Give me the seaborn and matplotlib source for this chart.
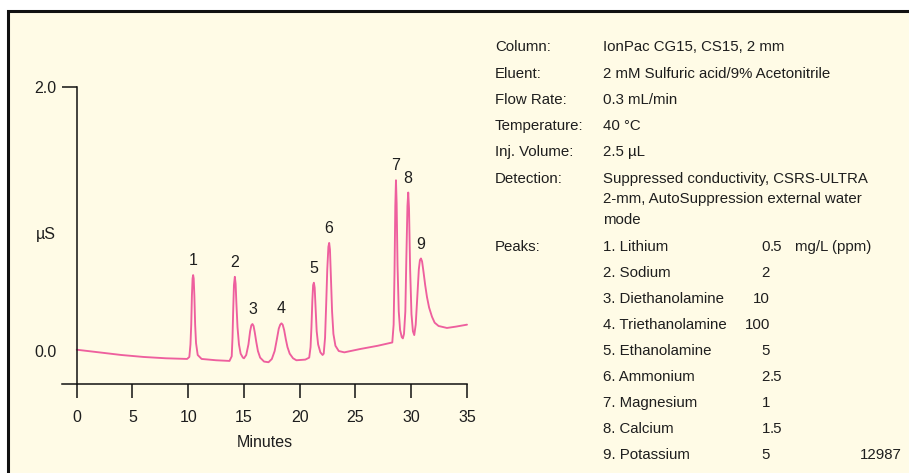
import matplotlib
matplotlib.use("Agg")
import matplotlib.pyplot as plt
import matplotlib.patches as patches
from matplotlib import font_manager
import pandas as pd
import seaborn as sns

# Chromatogram trace (minutes, µS)
time = [0.0, 2.0, 4.0, 6.0, 8.0, 9.9, 10.1,
        10.2, 10.27, 10.33, 10.39, 10.44, 10.49, 10.55, 10.62, 10.7, 10.85, 11.2,
        12.5, 13.7, 13.9, 13.97, 14.03, 14.1, 14.18, 14.25, 14.32, 14.42, 14.55, 14.7, 14.9,
        15.0, 15.2, 15.4, 15.55, 15.66, 15.76, 15.86, 15.97, 16.1, 16.25, 16.45, 16.8,
        17.2, 17.5, 17.75, 17.95, 18.12, 18.25, 18.36, 18.47, 18.6, 18.75, 18.9, 19.1, 19.4, 19.7,
        20.5, 20.85, 20.97, 21.05, 21.13, 21.2, 21.27, 21.34, 21.42, 21.52, 21.65, 21.85, 22.05,
        22.15, 22.27, 22.37, 22.47, 22.57, 22.64, 22.71, 22.8, 22.9, 23.02, 23.2, 23.5,
        24.0, 25.4, 27.0, 28.3, 28.42, 28.5, 28.57, 28.63, 28.69, 28.77, 28.88, 29.0, 29.15, 29.25,
        29.35, 29.47, 29.56, 29.66, 29.73, 29.8, 29.9, 30.02, 30.15, 30.27,
        30.4, 30.55, 30.68, 30.78, 30.87, 30.97, 31.1, 31.25, 31.41, 31.6, 31.86, 32.1, 32.45,
        33.2, 34.0, 35.0]
signal = [0.01, -0.01, -0.03, -0.045, -0.055, -0.06, -0.045,
          0.05, 0.2, 0.42, 0.55, 0.576, 0.55, 0.42, 0.2, 0.06, -0.03, -0.06,
          -0.07, -0.075, -0.04, 0.1, 0.3, 0.5, 0.563, 0.51, 0.36, 0.18, 0.05, -0.02, -0.05,
          -0.055, -0.03, 0.05, 0.15, 0.195, 0.205, 0.19, 0.14, 0.07, 0.0, -0.05, -0.08,
          -0.085, -0.06, 0.0, 0.09, 0.17, 0.2, 0.21, 0.2, 0.16, 0.09, 0.03, -0.02, -0.055, -0.07,
          -0.065, -0.05, 0.03, 0.18, 0.38, 0.5, 0.518, 0.48, 0.33, 0.15, 0.05, -0.01, -0.03,
          -0.02, 0.1, 0.35, 0.62, 0.79, 0.82, 0.77, 0.55, 0.3, 0.13, 0.04, 0.0,
          -0.01, 0.015, 0.04, 0.065, 0.2, 0.6, 1.1, 1.295, 1.12, 0.65, 0.3, 0.16, 0.105, 0.096,
          0.13, 0.3, 0.7, 1.1, 1.202, 1.08, 0.62, 0.28, 0.15, 0.121,
          0.2, 0.42, 0.62, 0.69, 0.702, 0.68, 0.6, 0.5, 0.41, 0.33, 0.26, 0.215, 0.19,
          0.175, 0.185, 0.2]

# Peak apexes used for the numbers above the peaks
peak_labels = ["1", "2", "3", "4", "5", "6", "7", "8", "9"]
peak_times = [10.44, 14.18, 15.76, 18.36, 21.27, 22.64, 28.63, 29.73, 30.87]
peak_heights = [0.576, 0.563, 0.205, 0.21, 0.518, 0.82, 1.295, 1.202, 0.702]

x_ticks = [0, 5, 10, 15, 20, 25, 30, 35]
y_ticks = [0.0, 2.0]
y_tick_labels = ["0.0", "2.0"]

# Conditions block
info_labels = ["Column:", "Eluent:", "Flow Rate:", "Temperature:", "Inj. Volume:", "Detection:"]
info_values = [["IonPac CG15, CS15, 2 mm"],
               ["2 mM Sulfuric acid/9% Acetonitrile"],
               ["0.3 mL/min"],
               ["40 °C"],
               ["2.5 µL"],
               ["Suppressed conductivity, CSRS-ULTRA",
                "2-mm, AutoSuppression external water",
                "mode"]]
peak_names = ["1. Lithium", "2. Sodium", "3. Diethanolamine", "4. Triethanolamine",
              "5. Ethanolamine", "6. Ammonium", "7. Magnesium", "8. Calcium", "9. Potassium"]
peak_amounts = ["0.5", "2", "10", "100", "5", "2.5", "1", "1.5", "5"]
amount_unit = "mg/L (ppm)"
figure_id = "12987"

sns.set_style("ticks")
installed = {f.name for f in font_manager.fontManager.ttflist}
if "Liberation Sans Narrow" in installed:
    plt.rcParams["font.family"] = ["Liberation Sans Narrow", "DejaVu Sans"]
    fs_chart, fs_text = 12.5, 12
else:
    # regular width face: shrink a little so the text keeps its extent
    plt.rcParams["font.family"] = ["Liberation Sans", "DejaVu Sans"]
    fs_chart, fs_text = 11.5, 10.8

W, H = 909, 473
bg = "#fffbe6"
pink = "#ee5f9e"
ink = "#1e1e1e"

fig = plt.figure(figsize=(W / 100, H / 100), dpi=100, facecolor="white")


def px(x, y):
    return x / W, 1 - y / H


# cream panel with black frame on top / left
fig.patches.append(patches.Rectangle((8 / W, -0.05), 1.2, 1 - 11 / H + 0.05,
                                     transform=fig.transFigure, facecolor=bg,
                                     edgecolor="#111111", linewidth=2.2, zorder=-5))

left, right = px(62, 0)[0], px(467, 0)[0]
ax = fig.add_axes([left, 1 - 384 / H, right - left, (384 - 87.3) / H])
ax.set_facecolor("none")
ax.set_zorder(2)

df = pd.DataFrame({"Minutes": time, "uS": signal})
sns.lineplot(data=df, x="Minutes", y="uS", ax=ax, color=pink, linewidth=1.35,
             sort=False, estimator=None, clip_on=False)

for lab, t, h in zip(peak_labels, peak_times, peak_heights):
    ax.annotate(lab, (t, h), xytext=(0, 5), textcoords="offset points",
                ha="center", va="bottom", fontsize=fs_chart, color=ink)

ax.set_xlim(-1.32, 35)
ax.set_ylim(-0.25, 2.0)
ax.spines["left"].set_position(("data", 0))
ax.spines["left"].set_bounds(-0.25, 2.0)
ax.spines["bottom"].set_bounds(-1.32, 35)
for s in ["top", "right"]:
    ax.spines[s].set_visible(False)
for s in ["left", "bottom"]:
    ax.spines[s].set_color("#111111")
    ax.spines[s].set_linewidth(1.1)

ax.set_xticks(x_ticks)
ax.set_xticklabels([str(v) for v in x_ticks])
ax.set_yticks(y_ticks)
ax.set_yticklabels(y_tick_labels)
ax.tick_params(axis="x", direction="out", length=10, width=1.1, pad=9,
               labelsize=fs_chart, colors="#111111", labelcolor=ink)
ax.tick_params(axis="y", direction="out", length=10.8, width=1.1, pad=3.5,
               labelsize=fs_chart, colors="#111111", labelcolor=ink)
ax.yaxis.get_major_ticks()[0].tick1line.set_visible(False)

ax.set_xlabel("Minutes", fontsize=fs_chart, color=ink, labelpad=7)
ax.set_ylabel("")
ax.text(-1.85, 0.88, "µS", ha="right", va="center", fontsize=fs_chart, color=ink)

# right-hand text block
rows = [51, 77.5, 104, 130, 156, 182.5]
for lab, vals, yb in zip(info_labels, info_values, rows):
    fig.text(*px(495, yb), lab, fontsize=fs_text, color=ink, va="baseline")
    for i, v in enumerate(vals):
        fig.text(*px(603, yb + i * 20.5), v, fontsize=fs_text, color=ink, va="baseline")

peak_y0 = 250.5
step = 26.1
fig.text(*px(495, peak_y0), "Peaks:", fontsize=fs_text, color=ink, va="baseline")
for i, (name, amt) in enumerate(zip(peak_names, peak_amounts)):
    yb = peak_y0 + i * step
    fig.text(*px(603, yb), name, fontsize=fs_text, color=ink, va="baseline")
    whole, _, frac = amt.partition(".")
    fig.text(*px(770, yb), whole, fontsize=fs_text, color=ink, va="baseline", ha="right")
    if frac:
        fig.text(*px(770, yb), "." + frac, fontsize=fs_text, color=ink, va="baseline", ha="left")
fig.text(*px(795, peak_y0), amount_unit, fontsize=fs_text, color=ink, va="baseline")
fig.text(*px(902, peak_y0 + 8 * step), figure_id, fontsize=fs_text, color=ink,
         va="baseline", ha="right")

fig.savefig("out.png", dpi=100, facecolor=fig.get_facecolor())
